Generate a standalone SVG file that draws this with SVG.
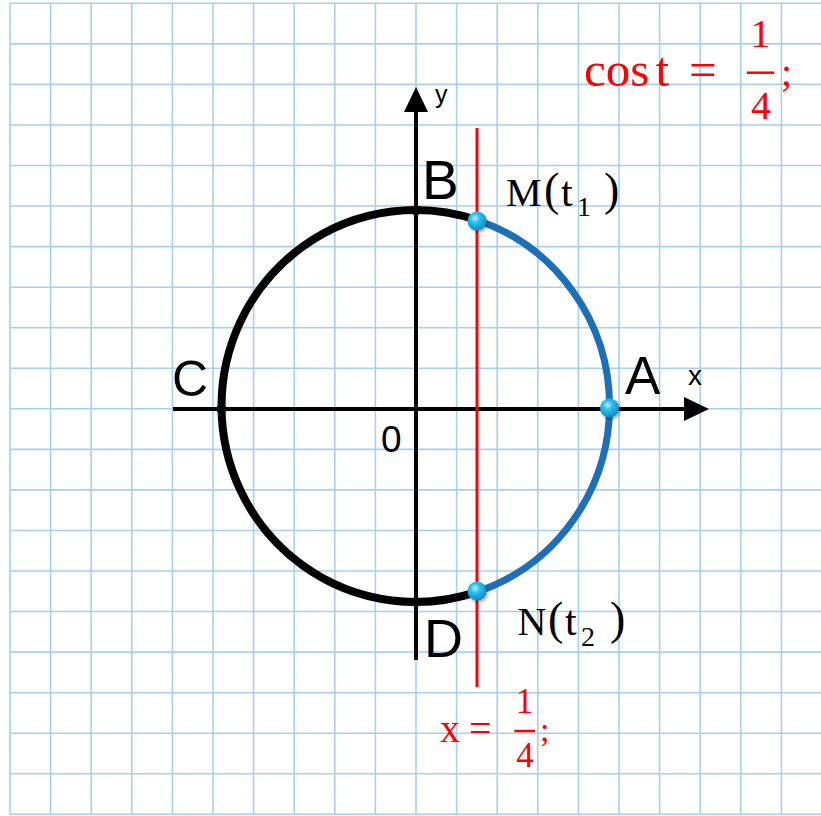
<svg xmlns="http://www.w3.org/2000/svg" width="821" height="816" viewBox="0 0 821 816">
<defs>
<style>
.grid line{stroke:#a8cfee;stroke-width:1.6}
.axis{stroke:#000;stroke-width:4;fill:none}
.sans{font-family:"Liberation Sans",Arial,sans-serif;fill:#000}
.serif{font-family:"Liberation Serif","Times New Roman",serif}
.red{fill:#ff0000}
.dot{fill:#000}
.pt{fill:url(#ball);filter:url(#sh)}
</style>
<radialGradient id="ball" cx="0.4" cy="0.35" r="0.7">
<stop offset="0" stop-color="#b8f0ff"/>
<stop offset="0.35" stop-color="#2cc0f0"/>
<stop offset="1" stop-color="#0a86c0"/>
</radialGradient>
<filter id="sh" x="-50%" y="-50%" width="200%" height="200%">
<feDropShadow dx="1.5" dy="2" stdDeviation="1.5" flood-color="#000" flood-opacity="0.35"/>
</filter>
</defs>
<rect width="821" height="816" fill="#fff"/>
<g class="grid" id="grid">
<line x1="10" y1="3" x2="10" y2="815"/>
<line x1="50.6" y1="3" x2="50.6" y2="815"/>
<line x1="91.2" y1="3" x2="91.2" y2="815"/>
<line x1="131.8" y1="3" x2="131.8" y2="815"/>
<line x1="172.4" y1="3" x2="172.4" y2="815"/>
<line x1="213" y1="3" x2="213" y2="815"/>
<line x1="253.6" y1="3" x2="253.6" y2="815"/>
<line x1="294.2" y1="3" x2="294.2" y2="815"/>
<line x1="334.8" y1="3" x2="334.8" y2="815"/>
<line x1="375.4" y1="3" x2="375.4" y2="815"/>
<line x1="416" y1="3" x2="416" y2="815"/>
<line x1="456.6" y1="3" x2="456.6" y2="815"/>
<line x1="497.2" y1="3" x2="497.2" y2="815"/>
<line x1="537.8" y1="3" x2="537.8" y2="815"/>
<line x1="578.4" y1="3" x2="578.4" y2="815"/>
<line x1="619" y1="3" x2="619" y2="815"/>
<line x1="659.6" y1="3" x2="659.6" y2="815"/>
<line x1="700.2" y1="3" x2="700.2" y2="815"/>
<line x1="740.8" y1="3" x2="740.8" y2="815"/>
<line x1="781.4" y1="3" x2="781.4" y2="815"/>
<line x1="10" y1="3.3" x2="821" y2="3.3"/>
<line x1="10" y1="43.9" x2="821" y2="43.9"/>
<line x1="10" y1="84.4" x2="821" y2="84.4"/>
<line x1="10" y1="125" x2="821" y2="125"/>
<line x1="10" y1="165.5" x2="821" y2="165.5"/>
<line x1="10" y1="206" x2="821" y2="206"/>
<line x1="10" y1="246.6" x2="821" y2="246.6"/>
<line x1="10" y1="287.2" x2="821" y2="287.2"/>
<line x1="10" y1="327.7" x2="821" y2="327.7"/>
<line x1="10" y1="368.2" x2="821" y2="368.2"/>
<line x1="10" y1="408.8" x2="821" y2="408.8"/>
<line x1="10" y1="449.4" x2="821" y2="449.4"/>
<line x1="10" y1="489.9" x2="821" y2="489.9"/>
<line x1="10" y1="530.5" x2="821" y2="530.5"/>
<line x1="10" y1="571" x2="821" y2="571"/>
<line x1="10" y1="611.5" x2="821" y2="611.5"/>
<line x1="10" y1="652.1" x2="821" y2="652.1"/>
<line x1="10" y1="692.7" x2="821" y2="692.7"/>
<line x1="10" y1="733.2" x2="821" y2="733.2"/>
<line x1="10" y1="773.8" x2="821" y2="773.8"/>
<line x1="10" y1="814.3" x2="821" y2="814.3"/>
</g>
<g id="connectors">
<line class="axis" x1="173" y1="409" x2="688" y2="409"/>
<polygon points="709,409 684,397 684,421" fill="#000"/>
<line class="axis" x1="416" y1="660" x2="416" y2="108"/>
<polygon points="416,87 404,112 428,112" fill="#000"/>
<path d="M477,220.1 A194,196 0 1 0 477,591.9" fill="none" stroke="#000" stroke-width="8"/>
<path d="M477,220.1 A194,196 0 0 1 477,591.9" fill="none" stroke="#1d6fb8" stroke-width="7"/>
<line x1="477" y1="128" x2="477" y2="687" stroke="#ff0000" stroke-width="3"/>
</g>
<g id="node-B"><circle class="dot" cx="416" cy="210.5" r="5"/><text class="sans" x="422" y="199" font-size="55">B</text></g>
<g id="node-C"><circle class="dot" cx="221.5" cy="409" r="5"/><text class="sans" x="172" y="395.5" font-size="50">C</text></g>
<g id="node-D"><circle class="dot" cx="416" cy="602" r="5"/><text class="sans" x="424" y="656.5" font-size="54">D</text></g>
<g id="node-O"><text class="sans" x="381" y="451.5" font-size="37">0</text></g>
<g id="label-x"><text class="sans" x="688" y="385" font-size="28">x</text></g>
<g id="label-y"><text class="sans" x="435" y="103" font-size="25">y</text></g>
<g id="node-A"><circle class="pt" cx="609.5" cy="408" r="9.5"/><text class="sans" x="625" y="394" font-size="53">A</text></g>
<g id="node-M"><circle class="pt" cx="477" cy="221" r="9.5"/>
<text class="serif" font-size="40" y="206" fill="#000"><tspan x="506">M</tspan><tspan x="544" font-size="46" y="205">(</tspan><tspan x="561" y="206" font-size="42">t</tspan><tspan x="577" y="216" font-size="28">1</tspan><tspan x="604" y="205" font-size="46">)</tspan></text></g>
<g id="node-N"><circle class="pt" cx="477" cy="591" r="9.5"/>
<text class="serif" font-size="40" y="635" fill="#000"><tspan x="517.5">N</tspan><tspan x="548" font-size="46" y="634">(</tspan><tspan x="565" y="635" font-size="42">t</tspan><tspan x="581" y="646" font-size="28">2</tspan><tspan x="610" y="634" font-size="46">)</tspan></text></g>
<g id="eq-cos">
<text class="serif red" font-size="49" y="86"><tspan x="584">cos</tspan><tspan x="655.5">t</tspan><tspan x="689">=</tspan></text>
<text class="serif red" font-size="40" x="760.5" y="46.7" text-anchor="middle">1</text>
<line x1="746.7" y1="72.7" x2="774.3" y2="72.7" stroke="#ff0000" stroke-width="2.5"/>
<text class="serif red" font-size="40" x="761" y="119" text-anchor="middle">4</text>
<text class="serif red" font-size="40" x="781" y="86">;</text>
</g>
<g id="eq-x">
<text class="serif red" font-size="40" y="741.7"><tspan x="440">x</tspan><tspan x="469">=</tspan></text>
<text class="serif red" font-size="35" x="524.5" y="713.3" text-anchor="middle">1</text>
<line x1="514.3" y1="731" x2="535" y2="731" stroke="#ff0000" stroke-width="2.5"/>
<text class="serif red" font-size="35" x="525" y="766.7" text-anchor="middle">4</text>
<text class="serif red" font-size="34" x="540" y="741">;</text>
</g>
</svg>
